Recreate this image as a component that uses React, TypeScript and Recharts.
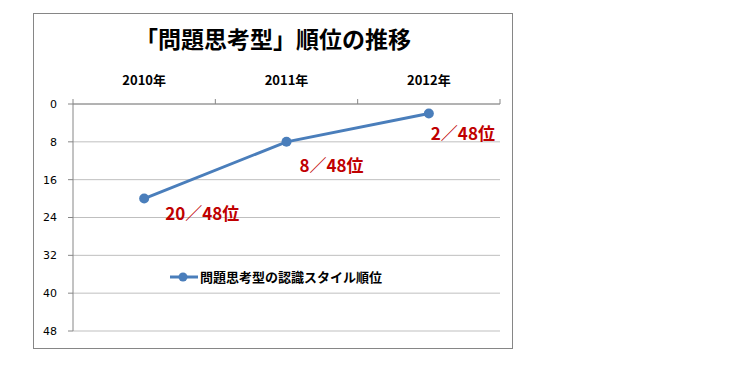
import React from 'react';
import { LineChart, Line, XAxis, YAxis, CartesianGrid, ReferenceLine, Legend, LabelList } from 'recharts';

const years = ['2010年', '2011年', '2012年'];
const ranks = [20, 8, 2];
const totalPrefectures = 48;
const rankTicks = [0, 8, 16, 24, 32, 40, 48];
const seriesName = '問題思考型の認識スタイル順位';
const title = '「問題思考型」順位の推移';

const data = years.map((year, i) => ({ pos: i + 0.5, year, rank: ranks[i] }));
const bandEdges = years.map((_, i) => i).concat(years.length);
const labelTicks = data.map((d) => d.pos);

const JP = '"Noto Sans CJK JP", "Noto Sans", sans-serif';
const BLUE = '#4A7EBB';
const RED = '#C00000';

// hand-placed data label offsets (px), like the Excel original
const LABEL_OFFSET = [
  { dx: 21, dy: 14 },
  { dx: 13, dy: 23 },
  { dx: 2, dy: 19 },
];

const RankLabel = (props: any) => {
  const { x, y, value, index } = props;
  const off = LABEL_OFFSET[index] || { dx: 0, dy: 16 };
  return (
    <text
      x={x + off.dx}
      y={y + off.dy}
      dominantBaseline="central"
      fill={RED}
      fontFamily={JP}
      fontWeight="bold"
      fontSize={17}
    >
      {`${value}／${totalPrefectures}位`}
    </text>
  );
};

const LegendContent = () => (
  <div style={{ display: 'flex', alignItems: 'center', fontFamily: JP, fontWeight: 'bold', fontSize: 13, lineHeight: '18px', color: '#000', whiteSpace: 'nowrap' }}>
    <svg width={29} height={10} style={{ marginRight: 1 }}>
      <line x1={0} y1={5} x2={28} y2={5} stroke={BLUE} strokeWidth={3} />
      <circle cx={13} cy={5} r={4.5} fill={BLUE} />
    </svg>
    {seriesName}
  </div>
);

const App: React.FC = () => {
  const yearOf = (v: number) => {
    const d = data.find((p) => p.pos === v);
    return d ? d.year : '';
  };

  return (
    <div style={{ position: 'relative', width: 742, height: 354 }}>
      <div
        style={{
          position: 'absolute',
          left: 25,
          top: 5,
          width: 478,
          height: 334,
          border: '1px solid #868686',
          background: '#fff',
        }}
      >
        <div
          style={{
            position: 'absolute',
            left: 0,
            top: 13,
            width: 478,
            textAlign: 'center',
            fontFamily: JP,
            fontWeight: 'bold',
            fontSize: 23,
            lineHeight: '23px',
            color: '#000',
          }}
        >
          {title}
        </div>
        <LineChart width={478} height={334} data={data} margin={{ top: 50, right: 12, bottom: 17, left: 0 }}>
          <CartesianGrid vertical={false} stroke="#BFBFBF" />
          <XAxis
            dataKey="pos"
            type="number"
            orientation="top"
            domain={[0, years.length]}
            ticks={labelTicks}
            tickFormatter={yearOf}
            height={40}
            tickSize={0}
            tickMargin={19}
            tickLine={false}
            axisLine={{ stroke: '#868686' }}
            tick={{ fill: '#000', fontFamily: JP, fontWeight: 'bold', fontSize: 13 }}
          />
          <YAxis
            type="number"
            reversed
            domain={[0, totalPrefectures]}
            ticks={rankTicks}
            width={39}
            tickSize={5}
            tickMargin={11}
            axisLine={{ stroke: '#868686' }}
            tickLine={{ stroke: '#868686' }}
            tick={{ fill: '#000', fontFamily: '"DejaVu Sans", Verdana, sans-serif', fontSize: 11 }}
          />
          {bandEdges.map((e) => (
            <ReferenceLine
              key={e}
              ifOverflow="visible"
              stroke="#868686"
              segment={[{ x: e, y: 0 }, { x: e, y: -1.05 }]}
            />
          ))}
          <Legend
            layout="horizontal"
            verticalAlign="middle"
            align="center"
            content={<LegendContent />}
            wrapperStyle={{ position: 'absolute', left: 136, top: 254, width: 'auto', height: 18 }}
          />
          <Line
            type="linear"
            dataKey="rank"
            name={seriesName}
            stroke={BLUE}
            strokeWidth={3}
            dot={{ r: 5, fill: BLUE, stroke: BLUE, strokeWidth: 0 }}
            activeDot={false}
            isAnimationActive={false}
          >
            <LabelList dataKey="rank" content={<RankLabel />} />
          </Line>
        </LineChart>
      </div>
    </div>
  );
};

export default App;
